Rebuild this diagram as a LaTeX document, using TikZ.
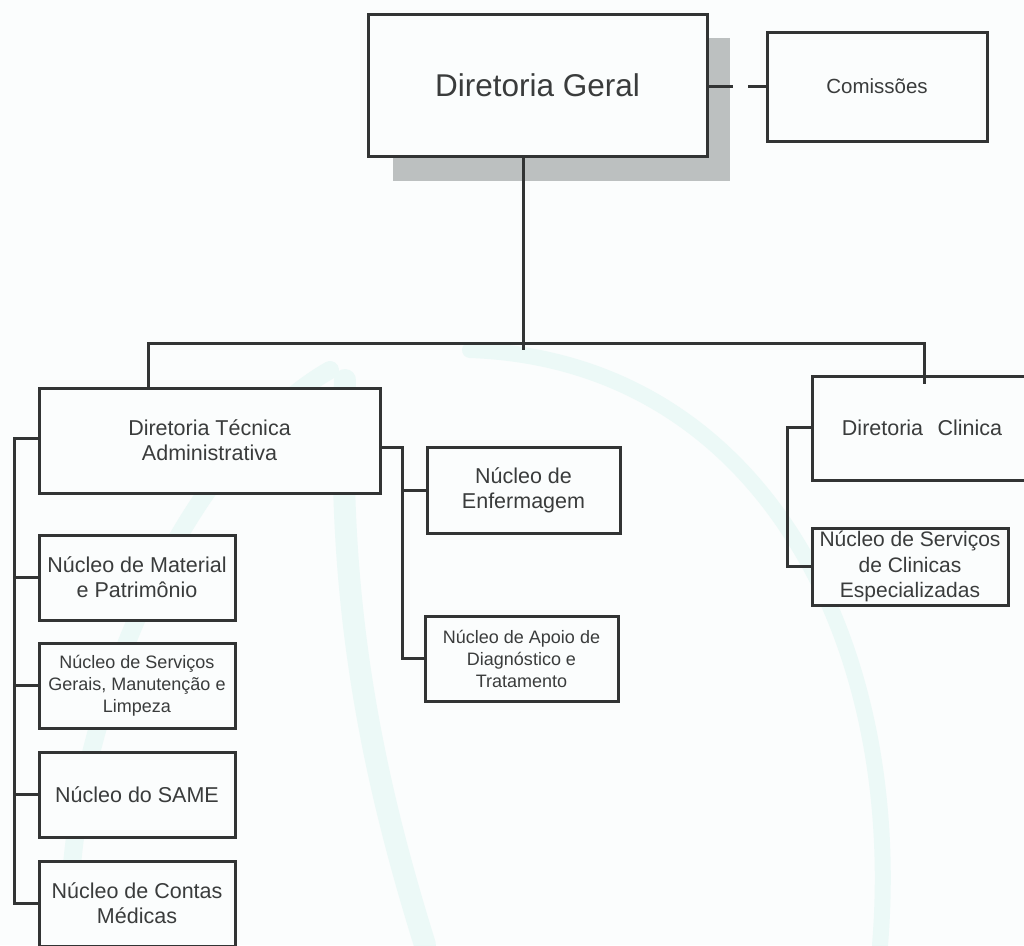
\documentclass[tikz,border=0pt]{standalone}
\usepackage{fontspec}
\setmainfont{Liberation Sans}
\definecolor{ink}{RGB}{50,52,52}
\definecolor{txt}{RGB}{58,60,60}
\definecolor{shadowgray}{RGB}{188,192,192}
\definecolor{wm}{RGB}{236,249,247}
\definecolor{paper}{RGB}{251,253,253}

\begin{document}
\begin{tikzpicture}[x=1pt,y=-1pt,
  orgbox/.style={draw=ink, line width=3pt, fill=paper, rectangle, inner sep=0pt,
    outer sep=0pt, align=center, text=txt, font=\fontsize{21.5}{25}\selectfont},
  smalltext/.style={font=\fontsize{18}{22}\selectfont},
  link/.style={draw=ink, line width=3pt}
]
% page and faint background emblem
\fill[paper] (0,0) rectangle (1024,945);
\useasboundingbox (0,0) rectangle (1024,945);
\begin{scope}[line cap=round]
  \draw[wm, line width=16pt] (470,350) .. controls (760,360) and (905,640) .. (880,945);
  \draw[wm, line width=18pt] (70,945) .. controls (60,720) and (190,450) .. (330,370);
  \draw[wm, line width=22pt] (345,380) .. controls (335,620) and (380,800) .. (425,945);
\end{scope}

% shadow of the top box
\fill[shadowgray] (393,38) rectangle (730,181);

% boxes
\node[orgbox, minimum width=339pt, minimum height=142pt, font=\fontsize{31.5}{36}\selectfont]
  (dg) at (537.5,85) {Diretoria Geral};
\node[orgbox, minimum width=220pt, minimum height=109pt, font=\fontsize{20.5}{24}\selectfont]
  (com) at (877,86.5) {Comissões};
\node[orgbox, minimum width=341pt, minimum height=105pt]
  (dta) at (209.5,440.5) {Diretoria Técnica\\Administrativa};
\node[orgbox, minimum width=228pt, minimum height=104pt, text width=228pt]
  (dc) at (926,428) {Diretoria\ \ Clinica\hspace*{8pt}};
\node[orgbox, minimum width=196pt, minimum height=77pt, font=\fontsize{21}{25.5}\selectfont]
  (nsce) at (910,566.5) {Núcleo de Serviços\\de Clinicas\\Especializadas};
\node[orgbox, minimum width=196pt, minimum height=85pt]
  (nmp) at (137,577.5) {Núcleo de Material\\e Patrimônio};
\node[orgbox, smalltext, minimum width=196pt, minimum height=85pt]
  (nsg) at (137,685.5) {Núcleo de Serviços\\Gerais, Manutenção e\\Limpeza};
\node[orgbox, minimum width=196pt, minimum height=85pt]
  (same) at (137,794.5) {Núcleo do SAME};
\node[orgbox, minimum width=196pt, minimum height=85pt]
  (ncm) at (137,903.5) {Núcleo de Contas\\Médicas};
\node[orgbox, minimum width=193pt, minimum height=86pt]
  (nenf) at (523.5,490) {Núcleo de\\Enfermagem};
\node[orgbox, smalltext, minimum width=193pt, minimum height=85pt]
  (napo) at (521.5,658.5) {Núcleo de Apoio de\\Diagnóstico e\\Tratamento};

% junction points
\coordinate (c1) at (733,86);
\coordinate (c2) at (748,86);
\coordinate (bar) at (523,343);
\coordinate (barlow) at (523,350);
\coordinate (bl) at (148,343);
\coordinate (br) at (924,343);
\coordinate (brd) at (924,384);
\coordinate (sp1) at (14,438);
\coordinate (sp2) at (14,903);
\coordinate (m1) at (402,447);
\coordinate (r1) at (787,427);

% connectors
\draw[link] (c1 -| dg.east) -- (c1);
\draw[link] (c2) -- (c2 -| com.west);
\draw[link] (bar |- dg.south) -- (barlow);
\draw[link] (bl |- dta.north) -- (bl) -- (br) -- (brd);
\draw[link] (sp1 -| dta.west) -- (sp1) -- (sp2) -- (sp2 -| ncm.west);
\draw[link] (nmp.west -| sp1) -- (nmp.west);
\draw[link] (nsg.west -| sp1) -- (nsg.west);
\draw[link] (same.west -| sp1) -- (same.west);
\draw[link] (m1 -| dta.east) -- (m1) |- (napo.west);
\draw[link] (m1) |- (nenf.west);
\draw[link] (r1 -| dc.west) -- (r1) |- (nsce.west);
\end{tikzpicture}
\end{document}
